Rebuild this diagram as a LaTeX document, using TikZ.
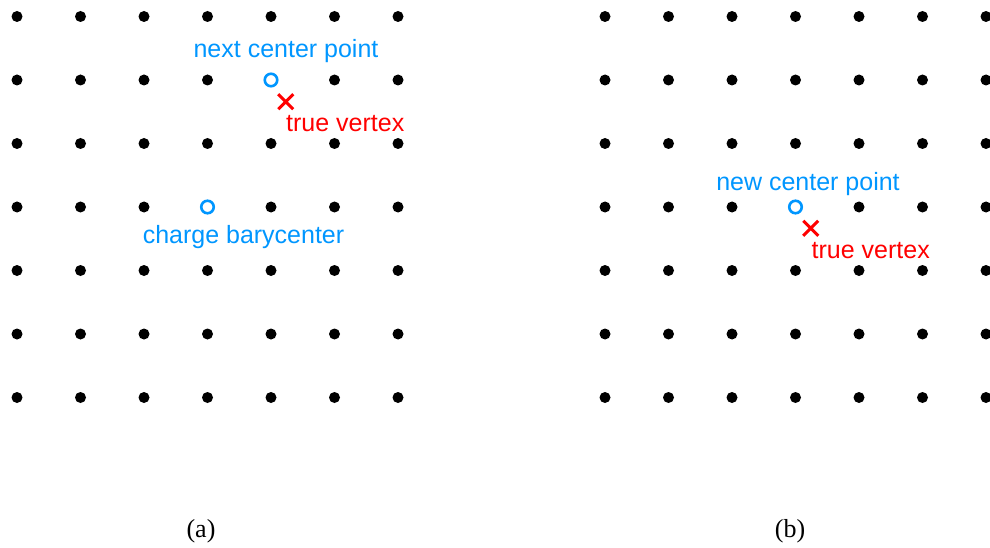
\documentclass[tikz,border=0pt]{standalone}
\usepackage{fontspec}
\setmainfont{Liberation Serif}
\newfontfamily\lblfont{Liberation Sans}
\usetikzlibrary{positioning, shapes.misc}
\definecolor{bluec}{RGB}{0,150,255}
\definecolor{redc}{RGB}{255,0,0}

\tikzset{
  dotpt/.style={circle, fill=black, inner sep=0pt, minimum size=11pt},
  centerpt/.style={circle, draw=bluec, line width=2.6pt, inner sep=0pt, minimum size=12.5pt},
  vertexmark/.style={cross out, draw=redc, line width=3pt, inner sep=0pt, minimum size=12pt},
  bluelbl/.style={text=bluec, font=\lblfont\fontsize{25}{28}\selectfont, anchor=base, inner sep=0pt},
  redlbl/.style={text=redc, font=\lblfont\fontsize{25}{28}\selectfont, anchor=base west, inner sep=0pt},
  caplbl/.style={font=\fontsize{26}{30}\selectfont, anchor=base, inner sep=0pt}
}

\begin{document}
\begin{tikzpicture}[x=1pt, y=-1pt]
    \useasboundingbox (0,0) rectangle (990,548);
    % 7x7 grids of pixels, spacing 63.5
    \foreach \i in {0,...,6} {
      \foreach \j in {0,...,6} {
        \node[dotpt] (a-\i-\j) at ({17+63.5*\i},{16.5+63.5*\j}) {};
        \node[dotpt] (b-\i-\j) at ({605+63.5*\i},{16.5+63.5*\j}) {};
      }
    }
    % panel (a)
    \node[centerpt, fill=white] (nextc) at (a-4-1) {};
    \node[centerpt, fill=white] (bary) at (a-3-3) {};
    \node[vertexmark] (vtxa) at (285.7,101.7) {};
    \node[bluelbl] (nextlbl) at (286,58) {next center point};
    \node[redlbl] (vtxalbl) at (286,132) {true vertex};
    \node[bluelbl] (barylbl) at (243.5,243.5) {charge barycenter};
    % panel (b)
    \node[centerpt, fill=white] (newc) at (b-3-3) {};
    \node[vertexmark] (vtxb) at (810.7,228.3) {};
    \node[bluelbl] (newlbl) at (808,190) {new center point};
    \node[redlbl] (vtxblbl) at (811.5,258.5) {true vertex};
    % captions
    \node[caplbl] (capa) at (201,537) {(a)};
    \node[caplbl] (capb) at (790,537) {(b)};
\end{tikzpicture}
\end{document}
